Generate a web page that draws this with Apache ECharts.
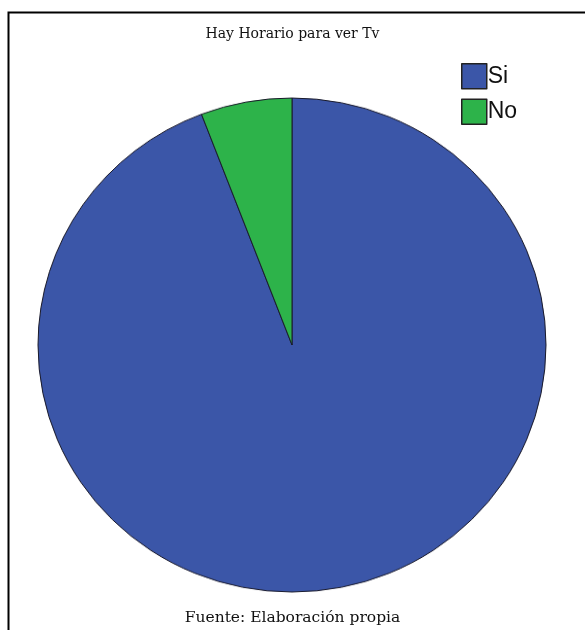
<!DOCTYPE html>
<html>
<head>
<meta charset="utf-8">
<script src="https://cdn.jsdelivr.net/npm/echarts@6/dist/echarts.min.js"></script>
<style>
  html, body { margin: 0; padding: 0; background: #fff; }
  #wrap { position: relative; width: 585px; height: 630px; overflow: hidden; }
  #pie, #frame { position: absolute; left: 0; top: 0; width: 585px; height: 630px; }
  /* the pie is drawn slightly flattened vertically */
  #pie { transform-origin: 292px 345px; transform: scaleY(0.9724); }
</style>
</head>
<body>
<div id="wrap">
  <div id="pie"></div>
  <div id="frame"></div>
</div>
<script>
// Categories and their shares of the pie
const categories = ['Si', 'No'];
const values = [94.2, 5.8];
const colors = ['#3b56a8', '#2db34a'];

const titleText = 'Hay Horario para ver Tv';
const sourceText = 'Fuente: Elaboración propia';

// Pie layer
const pieChart = echarts.init(document.getElementById('pie'), null, { renderer: 'canvas' });
pieChart.setOption({
  animation: false,
  backgroundColor: '#ffffff',
  series: [
    {
      type: 'pie',
      center: [292, 345],
      radius: [0, 254],
      startAngle: 90,
      clockwise: true,
      label: { show: false },
      labelLine: { show: false },
      emphasis: { disabled: true },
      itemStyle: { borderColor: '#1a1a2a', borderWidth: 1 },
      data: categories.map((name, i) => ({
        name,
        value: values[i],
        itemStyle: { color: colors[i] }
      }))
    }
  ]
});

// Title, source note, legend and frame layer
const frameChart = echarts.init(document.getElementById('frame'), null, { renderer: 'canvas' });
frameChart.setOption({
  animation: false,
  backgroundColor: 'transparent',
  title: [
    {
      text: titleText,
      left: 'center',
      top: 22,
      textStyle: { fontFamily: 'DejaVu Serif', fontSize: 14, fontWeight: 'normal', color: '#111' }
    },
    {
      text: sourceText,
      left: 'center',
      top: 605,
      textStyle: { fontFamily: 'DejaVu Serif', fontSize: 15.5, fontWeight: 'normal', color: '#111' }
    }
  ],
  legend: {
    orient: 'vertical',
    left: 456,
    top: 58,
    itemWidth: 25,
    itemHeight: 25,
    itemGap: 9,
    icon: 'rect',
    data: categories.map((name, i) => ({
      name,
      itemStyle: { color: colors[i], borderColor: '#222', borderWidth: 1.5 }
    })),
    textStyle: { fontFamily: 'Liberation Sans', fontSize: 23, color: '#111', padding: [0, 0, 0, -4] }
  },
  graphic: [
    {
      type: 'polyline',
      shape: { points: [[8.5, 640], [8.5, 12.5], [600, 12.5]] },
      style: { stroke: '#000', lineWidth: 2, fill: null }
    }
  ],
  series: [
    {
      type: 'pie',
      radius: 0,
      silent: true,
      label: { show: false },
      data: categories.map((name, i) => ({ name, value: values[i], itemStyle: { color: colors[i] } }))
    }
  ]
});
</script>
</body>
</html>
